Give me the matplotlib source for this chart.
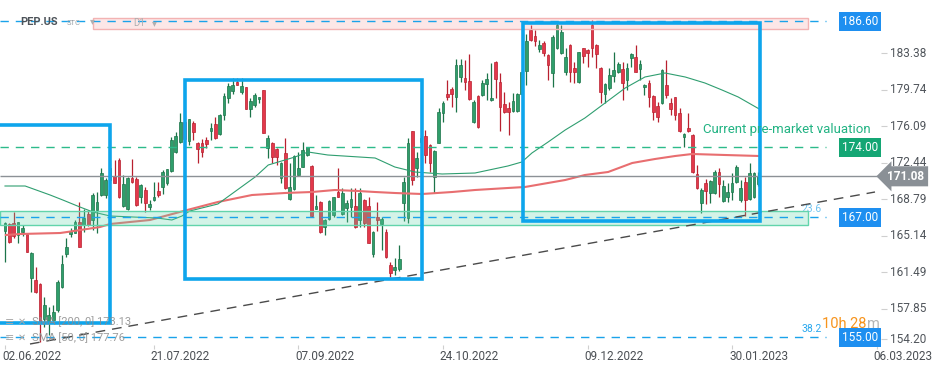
import matplotlib
matplotlib.use('Agg')
import matplotlib.pyplot as plt
from matplotlib.patches import Rectangle
import numpy as np

plt.rcParams['font.family'] = ['Roboto', 'DejaVu Sans']

# PEP.US daily candles, bar 0 = 02.06.2022
opens = [165.64, 166.31, 166.38, 165.21, 165.48, 165.31, 160.88, 160.71, 160.31, 156.78,
         156.54, 156.71, 157.71, 160.04, 163.31, 165.31, 165.44, 166.54, 166.21, 167.31,
         166.71, 167.71, 169.21, 169.21, 170.70, 171.11, 172.71, 168.11, 167.78, 170.88,
         170.81, 168.98, 169.71, 168.04, 168.71, 169.61, 170.04, 170.38, 171.64, 173.54,
         174.54, 176.50, 174.64, 176.44, 174.44, 174.44, 174.71, 175.64, 176.31, 175.31,
         177.21, 178.88, 179.64, 180.51, 179.54, 179.98, 177.84, 178.18, 178.78, 179.71,
         173.88, 174.44, 173.78, 170.88, 173.38, 168.78, 169.78, 171.21, 172.04, 173.21,
         172.11, 167.81, 168.54, 165.98, 166.78, 167.21, 169.54, 167.31, 167.88, 168.04,
         168.11, 166.71, 168.71, 168.11, 163.31, 167.00, 166.31, 165.54, 162.21, 161.71,
         161.78, 168.44, 166.88, 175.61, 171.88, 174.50, 175.11, 174.21, 171.04, 174.44,
         177.44, 179.31, 179.78, 179.04, 181.04, 180.88, 180.61, 176.54, 179.11, 179.21,
         180.31, 178.71, 182.48, 180.48, 178.28, 177.94, 177.64, 177.64, 179.30, 181.64,
         185.71, 185.11, 183.81, 184.38, 183.21, 181.38, 183.88, 183.38, 181.54, 184.21,
         181.88, 180.54, 183.88, 183.71, 186.20, 184.21, 181.88, 179.31, 179.88, 181.14,
         181.48, 181.81, 180.71, 182.94, 183.04, 181.78, 179.98, 180.44, 179.11, 178.11,
         178.44, 180.21, 178.38, 178.98, 177.38, 175.04, 175.94, 175.21, 171.31, 168.38,
         170.40, 169.38, 169.38, 171.54, 168.64, 169.04, 169.54, 170.54, 168.71, 170.54,
         168.78, 169.04, 170.30]
highs = [166.54, 166.44, 167.54, 166.54, 166.21, 165.40, 163.54, 162.04, 160.40, 159.04,
         158.04, 158.21, 160.70, 163.21, 164.88, 165.88, 166.71, 168.54, 167.78, 167.71,
         169.40, 169.54, 171.88, 170.90, 172.40, 172.71, 172.90, 171.21, 171.00, 172.78,
         171.04, 170.30, 170.04, 168.71, 170.54, 170.54, 171.71, 171.78, 175.04, 175.50,
         177.44, 177.20, 176.78, 176.61, 174.54, 174.78, 175.04, 176.38, 177.04, 177.30,
         179.38, 180.44, 180.88, 180.88, 180.88, 180.00, 178.88, 179.38, 179.04, 179.71,
         175.21, 174.50, 173.88, 172.54, 174.88, 172.38, 173.21, 173.54, 174.54, 174.04,
         172.20, 169.21, 168.60, 166.80, 168.71, 169.04, 171.88, 169.88, 168.71, 169.88,
         169.88, 169.88, 168.80, 169.04, 165.64, 168.54, 167.04, 165.81, 162.54, 162.88,
         164.21, 171.00, 174.88, 175.61, 173.54, 175.20, 175.71, 174.30, 173.70, 177.88,
         178.64, 180.71, 180.00, 182.78, 182.78, 182.71, 183.31, 178.71, 179.20, 180.71,
         181.38, 182.38, 182.60, 181.38, 179.54, 178.54, 179.38, 179.40, 181.80, 185.31,
         186.21, 185.71, 184.71, 184.60, 183.30, 185.20, 186.38, 186.21, 183.90, 184.30,
         182.54, 183.54, 183.90, 183.80, 186.70, 184.30, 182.04, 180.38, 181.88, 183.54,
         182.54, 182.54, 182.44, 183.38, 184.21, 182.71, 180.30, 180.71, 179.20, 178.54,
         181.78, 182.71, 178.88, 179.00, 177.88, 175.38, 177.44, 175.30, 172.21, 169.88,
         170.80, 170.71, 171.70, 171.90, 170.71, 170.38, 171.38, 172.21, 170.71, 171.04,
         172.38, 171.50, 171.50]
lows = [162.54, 164.38, 164.88, 164.38, 165.11, 163.50, 159.54, 159.38, 154.51, 156.04,
        155.20, 156.40, 157.50, 159.90, 163.04, 164.98, 165.40, 164.00, 165.54, 166.10,
        165.71, 165.38, 169.10, 168.90, 170.40, 170.40, 168.90, 168.00, 167.70, 170.40,
        168.10, 168.38, 167.54, 167.71, 168.60, 169.04, 169.28, 170.20, 171.50, 173.40,
        174.40, 174.50, 174.21, 174.71, 172.38, 173.04, 173.88, 174.71, 174.80, 175.20,
        176.71, 178.38, 179.31, 180.20, 179.31, 177.80, 177.04, 178.04, 178.38, 175.40,
        172.88, 172.38, 172.21, 170.38, 169.80, 168.70, 169.71, 171.20, 172.00, 173.10,
        167.04, 167.80, 165.38, 165.21, 166.71, 167.04, 169.00, 167.21, 166.54, 167.04,
        165.90, 166.04, 166.04, 164.38, 163.04, 165.60, 163.70, 162.88, 161.04, 161.21,
        161.64, 166.60, 166.38, 170.21, 171.04, 174.30, 172.38, 171.54, 169.38, 174.38,
        176.54, 178.71, 178.04, 177.51, 180.54, 179.71, 178.70, 176.38, 175.90, 179.10,
        178.71, 178.60, 178.88, 175.61, 177.38, 175.21, 177.50, 177.50, 179.20, 180.21,
        184.60, 184.10, 183.54, 183.10, 180.71, 180.04, 183.80, 183.30, 181.20, 180.54,
        180.38, 180.38, 182.38, 182.04, 183.00, 181.88, 178.38, 178.38, 179.71, 180.54,
        181.38, 178.71, 179.71, 182.04, 181.50, 180.71, 179.21, 178.04, 176.71, 176.54,
        178.30, 178.88, 177.21, 176.71, 175.54, 174.04, 175.54, 171.38, 169.80, 167.44,
        168.30, 168.38, 169.30, 169.00, 168.54, 168.54, 168.71, 170.38, 168.54, 167.11,
        168.71, 168.90, 170.10]
closes = [166.44, 164.54, 165.11, 166.54, 165.94, 163.54, 163.38, 159.54, 156.51, 158.21,
          157.21, 157.54, 160.54, 162.31, 164.04, 165.64, 166.54, 164.04, 166.91, 166.21,
          169.21, 168.54, 171.38, 170.71, 171.90, 170.44, 168.98, 170.31, 170.88, 170.54,
          168.21, 170.21, 168.38, 168.31, 169.04, 169.21, 171.54, 171.78, 174.71, 175.11,
          176.54, 174.80, 176.78, 175.54, 173.78, 173.54, 174.31, 175.88, 174.88, 177.21,
          179.11, 180.11, 180.18, 180.24, 180.11, 177.84, 178.64, 179.24, 178.98, 175.44,
          174.88, 173.04, 173.04, 172.44, 169.88, 169.98, 173.11, 171.88, 173.71, 173.98,
          167.11, 168.11, 165.54, 166.71, 168.64, 168.98, 169.04, 169.44, 168.44, 168.78,
          166.04, 169.38, 166.38, 164.44, 165.54, 166.70, 166.78, 163.04, 161.38, 162.04,
          162.78, 170.54, 174.38, 170.71, 172.88, 174.90, 173.21, 172.38, 173.61, 177.54,
          178.38, 178.98, 179.31, 182.21, 182.21, 180.54, 178.78, 178.54, 175.98, 180.44,
          180.78, 178.88, 180.81, 178.04, 177.54, 177.54, 178.61, 179.31, 181.50, 184.64,
          184.71, 184.64, 184.21, 183.44, 182.21, 185.04, 186.21, 185.54, 183.04, 181.54,
          181.54, 183.48, 183.11, 183.44, 183.90, 183.28, 179.54, 180.28, 181.21, 181.71,
          182.31, 180.44, 181.94, 183.31, 181.54, 182.31, 180.21, 178.98, 177.54, 177.04,
          181.71, 179.21, 177.78, 177.21, 175.64, 175.31, 175.64, 171.48, 169.88, 169.71,
          169.60, 170.64, 171.54, 170.31, 170.14, 169.54, 170.38, 171.98, 169.88, 168.71,
          171.44, 171.44, 171.08]

# moving averages (bar index, price)
sma50_x = [0.0, 4.6, 10.3, 13.2, 17.1, 20.1, 24.0, 29.2, 34.7, 38.1, 40.4, 42.2, 48.6,
           57.1, 60.1, 66.2, 69.2, 73.7, 84.5, 89.0, 93.6, 99.8, 107.3, 114.8, 118.0,
           120.3, 124.0, 127.9, 132.4, 137.0, 141.6, 146.1, 150.7, 155.3, 159.8, 163.7,
           167.4, 172.2]
sma50_y = [170.11, 170.11, 169.21, 168.71, 168.01, 167.51, 167.11, 167.01, 166.91, 166.71,
           167.11, 167.61, 168.31, 171.01, 172.21, 173.01, 173.51, 173.21, 172.91, 172.01,
           171.51, 171.31, 171.41, 172.11, 172.51, 173.41, 174.51, 175.71, 176.91, 178.41,
           179.91, 181.01, 181.41, 181.01, 180.41, 179.71, 179.01, 177.81]
sma200_x = [0.2, 3.4, 12.6, 14.2, 21.7, 24.0, 33.1, 41.6, 48.6, 56.4, 63.9, 70.1, 75.3,
            80.6, 84.5, 89.0, 95.2, 102.1, 107.3, 114.8, 118.7, 127.9, 132.4, 137.7,
            143.2, 148.4, 153.0, 156.9, 164.4, 172.2]
sma200_y = [165.21, 165.31, 165.41, 165.51, 166.01, 166.31, 166.71, 167.71, 168.51, 169.21,
            169.41, 169.51, 169.71, 169.61, 169.51, 169.41, 169.31, 169.51, 169.71, 169.91,
            170.01, 170.71, 171.21, 171.51, 172.41, 172.81, 173.11, 173.31, 173.21, 173.11]

date_idx = [0, 34, 67, 100, 133, 166, 199]
date_labels = ['02.06.2022', '21.07.2022', '07.09.2022', '24.10.2022',
               '09.12.2022', '30.01.2023', '06.03.2023']
price_ticks = [183.38, 179.74, 176.09, 172.44, 168.79, 165.14, 161.49, 157.85, 154.20]
last_price = 171.08
resistance = 186.60
target = 174.00
fib_236 = 167.00
fib_382 = 155.00


# pixel layout helpers (949x370 canvas)
def X(px):
    return (px - 5) / 4.38


def Y(py):
    return 188.71 - py / 10


fig = plt.figure(figsize=(9.49, 3.70), dpi=100)
ax = fig.add_axes([0, 0, 1, 1])
ax.set_xlim(X(0), X(949))
ax.set_ylim(Y(370), Y(0))
ax.axis('off')

o, h, l, c = map(np.array, (opens, highs, lows, closes))
idx = np.arange(len(o))
up = c >= o
g_fill, g_edge = '#2f9e6b', '#1c7449'
r_fill, r_edge = '#e3384b', '#b8202f'
ax.vlines(idx[up], l[up], h[up], color=g_edge, lw=0.9, zorder=2)
ax.vlines(idx[~up], l[~up], h[~up], color=r_edge, lw=0.9, zorder=2)
body = np.maximum(np.abs(c - o), 0.08)
ax.bar(idx[up], body[up], bottom=np.minimum(o, c)[up], width=0.62,
       color=g_fill, edgecolor=g_edge, lw=0.5, zorder=2)
ax.bar(idx[~up], body[~up], bottom=np.minimum(o, c)[~up], width=0.62,
       color=r_fill, edgecolor=r_edge, lw=0.5, zorder=2)

# moving averages
ax.plot(sma200_x, sma200_y, color='#e86e70', lw=1.5, zorder=3)
ax.plot(sma50_x, sma50_y, color='#2f9e70', lw=0.8, zorder=3)

# zones
ax.add_patch(Rectangle((X(0), 166.24), X(808) - X(0), 1.40, facecolor='#5fd3a8',
                       alpha=0.27, edgecolor='none', zorder=4))
ax.add_patch(Rectangle((X(0), 166.24), X(808) - X(0), 1.40, facecolor='none',
                       edgecolor='#62d4ab', lw=1, zorder=4))
ax.add_patch(Rectangle((X(93), 185.81), X(808) - X(93), 1.10, facecolor='#f4a0a0',
                       alpha=0.25, edgecolor='none', zorder=4))
ax.add_patch(Rectangle((X(93), 185.81), X(808) - X(93), 1.10, facecolor='none',
                       edgecolor='#f3b3b3', lw=1, zorder=4))

# horizontal levels
blue = '#1aa3ea'
for lvl in (resistance, fib_236, fib_382):
    ax.hlines(lvl, X(0), X(826), color=blue, lw=1.0, linestyles=(0, (6, 5)), zorder=5)
ax.hlines(target, X(0), X(826), color='#2dbb8a', lw=1.0, linestyles=(0, (6, 5)), zorder=5)
ax.hlines(last_price, X(0), X(878), color='#8c9196', lw=1.0, zorder=5)

# trend line
ax.plot([X(30), X(875)], [Y(344), Y(192)], color='#4a4a4a', lw=1.0,
        dashes=(7, 5), zorder=5)

# highlight boxes
box_c = '#0ea5ec'
for x0, x1, y0, y1 in [(X(-5), X(110), Y(323), Y(125)),
                       (X(184.6), X(422), Y(278.5), Y(80)),
                       (X(523), X(760), Y(220.5), Y(23))]:
    ax.add_patch(Rectangle((x0, y0), x1 - x0, y1 - y0, fill=False, edgecolor=box_c,
                           lw=2.6, joinstyle='miter', zorder=6))

# price axis
for p in price_ticks:
    py = Y(339) if p == price_ticks[-1] else p
    ax.hlines(py, X(881), X(887), color='#cfcfcf', lw=0.8)
    ax.text(X(890), py, f'{p:.2f}', fontsize=8.5, color='#50555b', va='center', ha='left')

for lvl, col in [(resistance, '#1e8ff0'), (target, '#14a674'),
                 (fib_236, '#1e8ff0'), (fib_382, '#1e8ff0')]:
    ax.text(X(860), lvl, f'{lvl:.2f}', fontsize=8.5, color='white', ha='center',
            va='center', zorder=7,
            bbox=dict(boxstyle='square,pad=0.25', fc=col, ec='none'))
ax.text(X(906), last_price, f'{last_price:.2f}', fontsize=8.5, color='white',
        fontweight='bold', ha='center', va='center', zorder=7,
        bbox=dict(boxstyle='larrow,pad=0.3', fc='#8a9096', ec='none'))

# date axis
for i, lab in zip(date_idx, date_labels):
    ax.vlines(i, Y(345), Y(349), color='#cfcfcf', lw=0.8)
    ax.text(i - 0.7, Y(356), lab, fontsize=8.5, color='#4b4f54', ha='left', va='center')

# annotations
ax.text(X(703), Y(129), 'Current pre-market valuation', fontsize=9.5, color='#22b383',
        ha='left', va='center', zorder=7)
ax.text(X(802), Y(209), '23.6', fontsize=7.5, color='#6fc3f0', ha='left', va='center')
ax.text(X(801), Y(329), '38.2', fontsize=7.5, color='#2aa8ee', ha='left', va='center')
t = ax.text(X(822), Y(324), '10h 28', fontsize=10.5, color='#f7941d', ha='left',
            va='center', zorder=7)
ax.annotate('m', xy=(1, 0.5), xycoords=t, xytext=(0.5, 0), textcoords='offset points',
            fontsize=10.5, color='#b5b5b5', ha='left', va='center', zorder=7)

# header
ax.text(X(20), Y(22), 'PEP.US', fontsize=8, fontweight='bold', color='#4d5359',
        ha='left', va='center', zorder=7)
ax.text(X(67), Y(23), 'STC', fontsize=5.5, color='#9aa0a6', ha='left', va='center', zorder=7)
ax.text(X(90), Y(21), '▾', fontsize=7, color='#b0b0b0', ha='left', va='center', zorder=7)
ax.text(X(133), Y(23), 'D1', fontsize=7, color='#b0b0b0', ha='left', va='center', zorder=7)
ax.text(X(152), Y(23), '▾', fontsize=7, color='#b0b0b0', ha='left', va='center', zorder=7)

# indicator legend
for py, lab in [(Y(322), 'SMA [200, 0] 173.13'), (Y(338), 'SMA [50, 0] 177.76')]:
    ax.text(X(5), py, '≡', fontsize=8, color='#a8a8a8', ha='left', va='center', zorder=7)
    ax.text(X(18), py, '✕', fontsize=7, color='#a8a8a8', ha='left', va='center', zorder=7)
    ax.text(X(32), py, lab, fontsize=8, color='#8c8c8c', ha='left', va='center',
            alpha=0.85, zorder=7)

plt.savefig('out.png', dpi=100)
